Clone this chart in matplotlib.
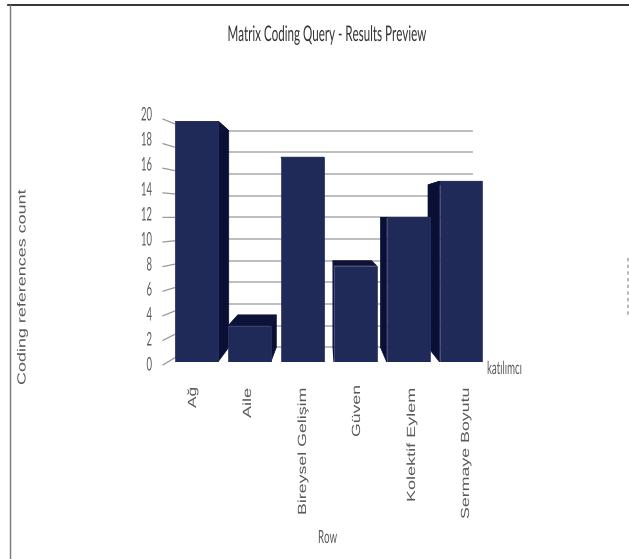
import matplotlib
matplotlib.use('Agg')
import matplotlib.pyplot as plt
from matplotlib.patches import Polygon
from matplotlib.patheffects import AbstractPathEffect
from matplotlib.transforms import Affine2D

categories = ['Ağ', 'Aile', 'Bireysel Gelişim', 'Güven', 'Kolektif Eylem', 'Sermaye Boyutu']
counts = [20, 3, 17, 8, 12, 15]
y_ticks = [0, 2, 4, 6, 8, 10, 12, 14, 16, 18, 20]

WIDTH, HEIGHT = 629, 559
FRONT = '#1f2a58'
SIDE = '#0a0f36'
TOP = '#0c1238'
GRID = '#b8b8b8'
TEXT = '#5a5a5a'

# perspective: everything shrinks towards this point (data coords)
VX, VY = 2.43, 12.03
DEPTH = 0.101
BAR_W = 0.81


class Squeeze(AbstractPathEffect):
    """Stretches drawn text about a fixed display point (the original is squashed)."""

    def __init__(self, sx, sy, anchor):
        super().__init__()
        self.sx, self.sy, self.anchor = sx, sy, anchor

    def draw_path(self, renderer, gc, tpath, affine, rgbFace=None):
        ax_, ay_ = self.anchor
        extra = Affine2D().translate(-ax_, -ay_).scale(self.sx, self.sy).translate(ax_, ay_)
        renderer.draw_path(gc, tpath, affine + extra, rgbFace)


def fit_text(t, length):
    # scale a text along its reading direction to a length in pixels
    box = t.get_window_extent(fig.canvas.get_renderer())
    anchor = t.get_transform().transform(t.get_position())
    if t.get_rotation() == 90:
        t.set_path_effects([Squeeze(1, length / box.height, anchor)])
    else:
        t.set_path_effects([Squeeze(length / box.width, 1, anchor)])


def px(x, y):
    return x / WIDTH, 1 - y / HEIGHT


def back(x, y, f=DEPTH):
    return VX + (x - VX) * (1 - f), VY + (y - VY) * (1 - f)


def draw_bar(ax, i, value):
    l, r = i - BAR_W / 2, i + BAR_W / 2
    bl, br = back(l, 0)[0], back(r, 0)[0]
    by0, byt = back(l, 0)[1], back(l, value)[1]
    # side faces
    if bl < l:
        ax.add_patch(Polygon([(l, 0), (l, value), (bl, byt), (bl, by0)], fc=SIDE, ec=SIDE, lw=0.5, zorder=3))
    if br > r:
        ax.add_patch(Polygon([(r, 0), (r, value), (br, byt), (br, by0)], fc=SIDE, ec=SIDE, lw=0.5, zorder=3))
    # top face, only visible under the vanishing point
    ax.add_patch(Polygon([(l, value), (r, value), (br, byt), (bl, byt)], fc=TOP, ec=TOP, lw=0.5, zorder=3))
    ax.bar(i, value, width=BAR_W, color=FRONT, edgecolor='#2b3566', linewidth=0.5, zorder=4)


fig = plt.figure(figsize=(WIDTH / 100, HEIGHT / 100), dpi=100, facecolor='white')

# axes front plane: y 0 at 362px, y 20 at 121px, bars every 52.9px from 196.5px
left_px, right_px = 150, 520
ax = fig.add_axes([left_px / WIDTH, 1 - 362 / HEIGHT, (right_px - left_px) / WIDTH, 241 / HEIGHT])
ax.set_xlim((left_px - 196.5) / 52.9, (right_px - 196.5) / 52.9)
ax.set_ylim(0, 20)
ax.axis('off')

# back wall lines
x0 = (227 - 196.5) / 52.9
x1 = (471.5 - 196.5) / 52.9
for v in y_ticks:
    yb = back(0, v)[1]
    ax.plot([x0, x1], [yb, yb], color=GRID, lw=1.3, zorder=1, clip_on=False)

# slanted tick marks and the wall edge
xa = (163 - 196.5) / 52.9
xb = (175 - 196.5) / 52.9
xl = (152 - 196.5) / 52.9
for v in y_ticks:
    ya = VY + (v - VY) * 1.02
    yz = VY + (v - VY) * 0.97
    ax.plot([xa, xb], [ya, yz], color='#999999', lw=0.9, zorder=1, clip_on=False)
    lab = ax.text(xl, -0.25 + v * 1.0375, str(v), ha='right', va='center', fontsize=13.5,
                  family='Lato', color=TEXT, clip_on=False)
    fit_text(lab, 11 if v >= 10 else 5.5)
ax.plot([xb, xb], [VY + (20 - VY) * 0.97, VY + (0 - VY) * 0.97], color='#aaaaaa', lw=0.8, zorder=1)

for i, value in enumerate(counts):
    draw_bar(ax, i, value)

# page frame and the cut-off sliver at the right edge
fig.add_artist(plt.Line2D([8 / WIDTH, 1], [1 - 5 / HEIGHT] * 2, color='#111111', lw=1.2))
fig.add_artist(plt.Line2D([10 / WIDTH] * 2, [0, 1 - 5 / HEIGHT], color='#777777', lw=1))
fig.add_artist(plt.Line2D([628 / WIDTH] * 2, [1 - 258 / HEIGHT, 1 - 318 / HEIGHT], color='#aaaaaa', lw=1.2, ls=(0, (2, 2))))

tx, ty = px(327, 35)
t = fig.text(tx, ty, 'Matrix Coding Query - Results Preview', ha='center', va='center', fontsize=15.5, family='Lato', color='#333333')
fit_text(t, 199)
tx, ty = px(327.5, 538)
t = fig.text(tx, ty, 'Row', ha='center', va='center', fontsize=13, family='Lato', color=TEXT)
fit_text(t, 19)
tx, ty = px(504.5, 369)
t = fig.text(tx, ty, 'katılımcı', ha='center', va='center', fontsize=13, family='Lato', color=TEXT)
fit_text(t, 35)
tx, ty = px(22.5, 287.5)
t = fig.text(tx, ty, 'Coding references count', rotation=90, ha='center', va='center', fontsize=8.5, family='Liberation Sans', color=TEXT)
fit_text(t, 195)

label_x = [193, 248, 303, 357, 412, 466]
label_top = [387, 388, 388, 385, 388, 388]
label_len = [21, 30, 127, 52, 114, 131]
for name, lx, ltop, ln in zip(categories, label_x, label_top, label_len):
    tx, ty = px(lx, ltop)
    t = fig.text(tx, ty, name, rotation=90, ha='center', va='top', fontsize=8.5, family='Liberation Sans', color=TEXT)
    fit_text(t, ln)

fig.savefig('out.png', dpi=100)
